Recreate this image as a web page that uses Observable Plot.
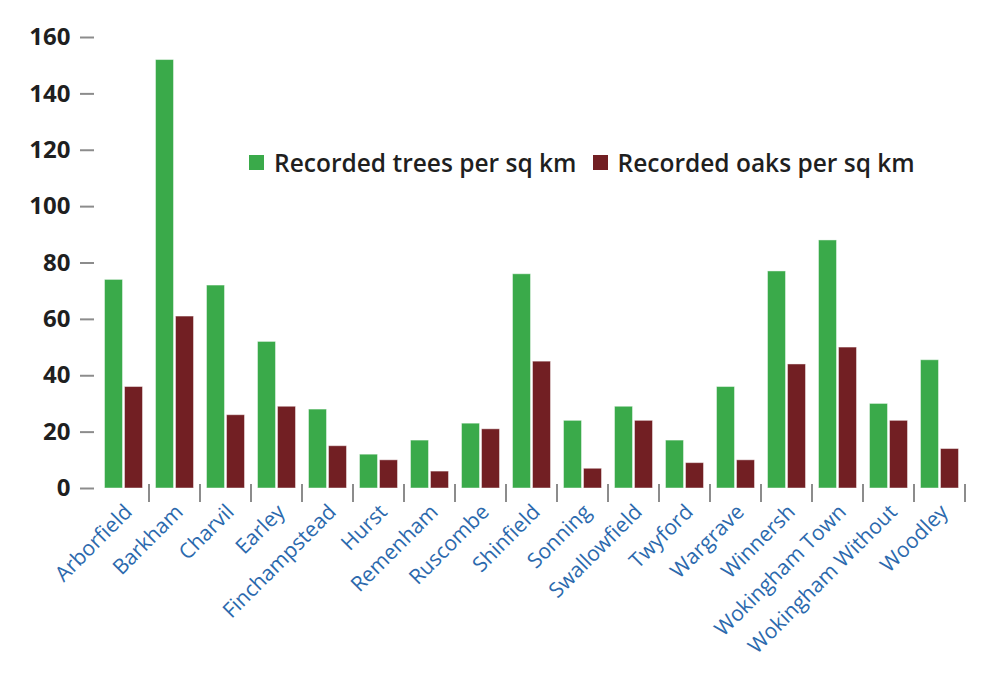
<!DOCTYPE html>
<html>
<head>
<meta charset="utf-8">
<script src="https://cdn.jsdelivr.net/npm/d3@7"></script>
<script src="https://cdn.jsdelivr.net/npm/@observablehq/plot@0.6"></script>
<style>
  body { margin: 0; background: #fff; font-family: "Open Sans", sans-serif; }
  #chart { position: relative; width: 1001px; height: 685px; }
  #chart svg { display: block; }
  #legend { position: absolute; left: 249px; top: 146px; }
  .lg-swatch { margin-right: 16px !important; }
  .lg-swatch > svg { margin-right: 10px !important; }
</style>
</head>
<body>
<div id="chart"><div id="legend"></div></div>
<script>
// Civil parishes of Wokingham borough
const parishes = [
  "Arborfield", "Barkham", "Charvil", "Earley", "Finchampstead", "Hurst",
  "Remenham", "Ruscombe", "Shinfield", "Sonning", "Swallowfield", "Twyford",
  "Wargrave", "Winnersh", "Wokingham Town", "Wokingham Without", "Woodley"
];

// Recorded trees per square kilometre
const treesPerSqKm = [74, 152, 72, 52, 28, 12, 17, 23, 76, 24, 29, 17, 36, 77, 88, 30, 45.5];

// Recorded oaks per square kilometre
const oaksPerSqKm = [36, 61, 26, 29, 15, 10, 6, 21, 45, 7, 24, 9, 10, 44, 50, 24, 14];

const seriesNames = ["Recorded trees per sq km", "Recorded oaks per sq km"];
const seriesColors = ["#3aaa4a", "#721f23"];
const yTicks = [0, 20, 40, 60, 80, 100, 120, 140, 160];

// Long table: one row per parish and series
const rows = parishes.flatMap((parish, i) => [
  {parish, series: seriesNames[0], value: treesPerSqKm[i]},
  {parish, series: seriesNames[1], value: oaksPerSqKm[i]}
]);

const chart = Plot.plot({
  width: 1001,
  height: 685,
  marginLeft: 97.5,
  marginRight: 36.5,
  marginTop: 37,
  marginBottom: 197,
  style: {fontFamily: "Open Sans", background: "white", overflow: "visible"},
  fx: {domain: parishes, paddingInner: 0.255, paddingOuter: 0.1275, label: null},
  x: {domain: seriesNames, paddingInner: 0.1, paddingOuter: 0, axis: null},
  y: {domain: [0, 160]},
  color: {domain: seriesNames, range: seriesColors},
  marks: [
    Plot.barY(rows, {
      fx: "parish", x: "series", y: "value", fill: "series",
      stroke: "white", strokeOpacity: 0.45, strokeWidth: 1
    }),
    Plot.axisY({
      ticks: yTicks, tickSize: 14, tickPadding: 10, dx: -10,
      stroke: "#8c8c8c", strokeWidth: 2, fill: "#1f1f1f",
      fontSize: 24, fontWeight: "bold", label: null
    }),
    // separators between parishes
    Plot.axisFx({
      anchor: "bottom", tickSize: 18, dy: -4, dx: 25.5, tickFormat: () => "",
      stroke: "#8c8c8c", strokeWidth: 2, label: null
    }),
    // rotated parish names
    Plot.axisFx({
      anchor: "bottom", tickSize: 0, tickPadding: 20, dx: 5, tickRotate: -45,
      fill: "#2b69ad", fontSize: 21, fontWeight: 500, label: null
    })
  ]
});
document.getElementById("chart").prepend(chart);

const legend = Plot.legend({
  color: {domain: seriesNames, range: seriesColors},
  legend: "swatches",
  swatchSize: 15,
  className: "lg",
  style: {fontSize: "24.5px", fontWeight: 600, color: "#1f1f1f", fontFamily: "Open Sans"}
});
document.getElementById("legend").append(legend);
</script>
</body>
</html>
